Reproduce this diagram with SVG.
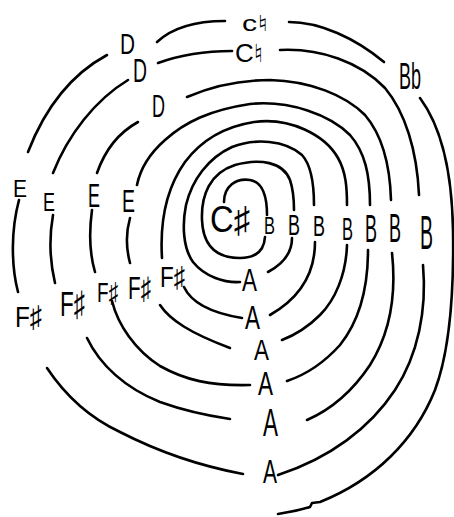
<svg xmlns="http://www.w3.org/2000/svg" width="454" height="517" viewBox="0 0 454 517">
<style>
.c{fill:none;stroke:#000;stroke-width:2.6;stroke-linecap:round;stroke-linejoin:round}
text{font-family:"Liberation Sans","DejaVu Sans",sans-serif;fill:#000}
</style>
<rect width="454" height="517" fill="#fff"/>
<g id="connectors">
<path class="c" d="M224,202 C224,186 236,178 250,180 C262,182 267,195 267,215"/>
<path class="c" d="M265,237 C264,252 255,258 240,258 C215,258 203,245 202,220 C201,195 210,173 235,165 C260,158 283,162 290,180 C294,192 294,202 294,210"/>
<path class="c" d="M292,238 C292,252 283,264 268,272"/>
<path class="c" d="M240,282 C225,283 205,277 193,262 C183,248 182,225 186,205 C192,180 208,158 232,147 C255,138 285,140 302,155 C312,166 314,185 314,205"/>
<path class="c" d="M315,242 C315,268 305,295 270,315"/>
<path class="c" d="M184,287 C190,300 205,312 242,318"/>
<path class="c" d="M162,258 C160,225 165,190 185,162 C200,142 222,127 254,122 C290,117 325,135 338,158 C346,172 347,188 347,205"/>
<path class="c" d="M347,245 C346,275 335,300 320,315 C308,327 295,335 282,340"/>
<path class="c" d="M160,305 C170,320 190,333 230,348"/>
<path class="c" d="M130,263 C126,248 126,232 130,218"/>
<path class="c" d="M137,185 C140,170 148,155 165,140 C185,122 210,110 250,104 C290,100 330,115 350,135 C365,152 370,175 370,205"/>
<path class="c" d="M368,250 C368,285 360,320 340,345 C322,365 305,375 287,381"/>
<path class="c" d="M112,301 C118,325 135,350 160,366 C185,380 210,386 250,385"/>
<path class="c" d="M95,272 C90,255 89,232 92,210"/>
<path class="c" d="M97,173 C105,150 118,133 138,122"/>
<path class="c" d="M187,97 C210,87 240,80 270,80 C310,81 345,95 365,115 C382,135 390,165 391,200"/>
<path class="c" d="M392,253 C396,290 392,330 370,365 C352,392 330,410 307,420"/>
<path class="c" d="M87,338 C100,365 125,388 160,402 C185,411 210,416 230,419"/>
<path class="c" d="M55,283 C50,262 49,238 53,215"/>
<path class="c" d="M53,173 C68,135 95,100 128,80"/>
<path class="c" d="M158,63 C180,55 205,51 232,51"/>
<path class="c" d="M280,50 C320,48 360,62 385,88 C405,112 417,150 419,195"/>
<path class="c" d="M423,265 C427,310 418,355 395,390 C370,428 330,458 278,475"/>
<path class="c" d="M47,368 C65,395 90,418 120,432 C155,450 195,465 243,474"/>
<path class="c" d="M18,292 C11,265 11,230 19,200"/>
<path class="c" d="M28,152 C45,108 70,75 107,55"/>
<path class="c" d="M157,42 C172,28 195,21 225,21"/>
<path class="c" d="M289,22 C320,22 355,38 384,62"/>
<path class="c" d="M420,98 C440,125 452,170 453,230 C454,290 450,350 435,390 C415,440 375,480 320,502 L312,503 L310,507 C300,510 290,512 278,514"/>
</g>
<g id="n-cnat2"><text x="242" y="31" font-size="22" textLength="26" lengthAdjust="spacingAndGlyphs">c♮</text></g>
<g id="n-cnat1"><text x="235" y="62" font-size="25" textLength="28" lengthAdjust="spacingAndGlyphs">C♮</text></g>
<g id="n-bb"><text x="399" y="89" font-size="36" textLength="22" lengthAdjust="spacingAndGlyphs">Bb</text></g>
<g id="n-d3"><text x="120" y="54" font-size="29" textLength="15" lengthAdjust="spacingAndGlyphs">D</text></g>
<g id="n-d2"><text x="133" y="82" font-size="33" textLength="14" lengthAdjust="spacingAndGlyphs">D</text></g>
<g id="n-d1"><text x="152" y="117" font-size="31" textLength="13" lengthAdjust="spacingAndGlyphs">D</text></g>
<g id="n-e4"><text x="13" y="197" font-size="24" textLength="14" lengthAdjust="spacingAndGlyphs">E</text></g>
<g id="n-e3"><text x="43" y="211" font-size="26" textLength="12" lengthAdjust="spacingAndGlyphs">E</text></g>
<g id="n-e2"><text x="88" y="207" font-size="33" textLength="12" lengthAdjust="spacingAndGlyphs">E</text></g>
<g id="n-e1"><text x="122" y="212" font-size="31" textLength="13" lengthAdjust="spacingAndGlyphs">E</text></g>
<g id="n-csharp"><text x="210" y="232" font-size="36" textLength="40" lengthAdjust="spacingAndGlyphs">C♯</text></g>
<g id="n-b1"><text x="264" y="234" font-size="24" textLength="11" lengthAdjust="spacingAndGlyphs">B</text></g>
<g id="n-b2"><text x="288" y="235" font-size="29" textLength="12" lengthAdjust="spacingAndGlyphs">B</text></g>
<g id="n-b3"><text x="313" y="236" font-size="29" textLength="12" lengthAdjust="spacingAndGlyphs">B</text></g>
<g id="n-b4"><text x="342" y="240" font-size="32" textLength="11" lengthAdjust="spacingAndGlyphs">B</text></g>
<g id="n-b5"><text x="365" y="242" font-size="38" textLength="12" lengthAdjust="spacingAndGlyphs">B</text></g>
<g id="n-b6"><text x="389" y="242" font-size="41" textLength="12" lengthAdjust="spacingAndGlyphs">B</text></g>
<g id="n-b7"><text x="420" y="249" font-size="48" textLength="13" lengthAdjust="spacingAndGlyphs">B</text></g>
<g id="n-fs5"><text x="15" y="327" font-size="30" textLength="27" lengthAdjust="spacingAndGlyphs">F♯</text></g>
<g id="n-fs4"><text x="60" y="316" font-size="35" textLength="25" lengthAdjust="spacingAndGlyphs">F♯</text></g>
<g id="n-fs3"><text x="97" y="302" font-size="28" textLength="21" lengthAdjust="spacingAndGlyphs">F♯</text></g>
<g id="n-fs2"><text x="128" y="299" font-size="31" textLength="23" lengthAdjust="spacingAndGlyphs">F♯</text></g>
<g id="n-fs1"><text x="160" y="287" font-size="29" textLength="25" lengthAdjust="spacingAndGlyphs">F♯</text></g>
<g id="n-a1"><text x="242" y="291" font-size="31" textLength="15" lengthAdjust="spacingAndGlyphs">A</text></g>
<g id="n-a2"><text x="245" y="329" font-size="33" textLength="15" lengthAdjust="spacingAndGlyphs">A</text></g>
<g id="n-a3"><text x="254" y="360" font-size="30" textLength="15" lengthAdjust="spacingAndGlyphs">A</text></g>
<g id="n-a4"><text x="258" y="395" font-size="33" textLength="15" lengthAdjust="spacingAndGlyphs">A</text></g>
<g id="n-a5"><text x="263" y="436" font-size="38" textLength="15" lengthAdjust="spacingAndGlyphs">A</text></g>
<g id="n-a6"><text x="263" y="483" font-size="34" textLength="14" lengthAdjust="spacingAndGlyphs">A</text></g>
</svg>
